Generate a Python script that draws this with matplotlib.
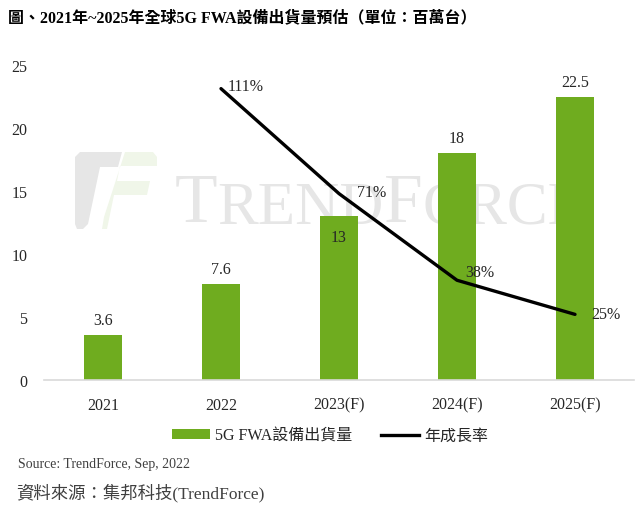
import matplotlib
matplotlib.use('Agg')
import matplotlib.pyplot as plt
from matplotlib.patches import Polygon, Patch
from matplotlib.lines import Line2D

# 字體：英數用襯線體，中文退回 Noto Sans CJK TC
plt.rcParams['font.family'] = ['Liberation Serif', 'Noto Sans CJK TC']
plt.rcParams['axes.unicode_minus'] = False

# --- 資料 ---
years = ['2021', '2022', '2023(F)', '2024(F)', '2025(F)']
shipments = [3.6, 7.6, 13, 18, 22.5]          # 百萬台
growth_years = ['2022', '2023(F)', '2024(F)', '2025(F)']
growth_pct = [111, 71, 38, 25]                 # 年成長率 (%)
yticks = [0, 5, 10, 15, 20, 25]

title = '圖、2021年~2025年全球5G FWA設備出貨量預估（單位：百萬台）'
bar_label = '5G FWA設備出貨量'
line_label = '年成長率'
source_en = 'Source: TrendForce, Sep, 2022'
source_zh = '資料來源：集邦科技(TrendForce)'

W, H = 640, 506
GREEN = '#6fac1f'
TXT = '#262626'


def px(x, y):
    # 像素座標 -> figure 座標
    return (x / W, 1 - y / H)


fig = plt.figure(figsize=(W / 100, H / 100), dpi=100)
ax = fig.add_axes([44 / W, 125 / H, 590 / W, 315 / H])
ax.set_facecolor('none')

xpos = list(range(len(years)))
bars = ax.bar(xpos, shipments, width=0.32, color=GREEN, zorder=2)

# 柱狀數值標籤 (2023 的標籤放在柱內)
offsets = [5, 5, -21, 5, 5]
for b, v, off in zip(bars, shipments, offsets):
    txt = f'{v:g}'
    ax.annotate(txt, (b.get_x() + b.get_width() / 2, v), xytext=(0, off),
                textcoords='offset points', ha='center', va='bottom',
                fontsize=11.5, color=TXT, zorder=5)

ax.set_xlim(-0.5, len(years) - 0.5)
ax.set_ylim(0, 25)
ax.set_yticks(yticks)
ax.set_xticks(xpos)
ax.set_xticklabels(years)
ax.tick_params(axis='both', length=0, labelsize=11.5, colors=TXT)
ax.tick_params(axis='y', pad=12)
ax.tick_params(axis='x', pad=12)
for s in ['top', 'right', 'left']:
    ax.spines[s].set_visible(False)
ax.spines['bottom'].set_color('#d9d9d9')
ax.spines['bottom'].set_linewidth(1.2)

# --- 年成長率 (次座標軸，隱藏) ---
ax2 = ax.twinx()
gx = [years.index(y) for y in growth_years]
ax2.plot(gx, growth_pct, color='black', linewidth=2.4, solid_capstyle='round', zorder=4)
ax2.set_ylim(0, 120)
ax2.axis('off')
pct_offsets = [(5, 2), (13, 1), (6, 6), (12, 0)]
for x, v, (dx, dy) in zip(gx, growth_pct, pct_offsets):
    ax2.annotate(f'{v}%', (x, v), xytext=(dx, dy), textcoords='offset points',
                 ha='left', va='center', fontsize=11.5, color=TXT)

# --- 浮水印 TrendForce ---
wm = '#e6e6e6'
wm_green = '#f0f6e9'
gray_part = [px(75, 158), px(80, 153), px(122, 153), px(118, 168), px(100, 168),
             px(88, 225), px(83, 230), px(77, 230), px(75, 225)]
green_part = [px(125, 153), px(153, 153), px(157, 158), px(157, 167), px(120, 167),
              px(117, 182), px(150, 182), px(147, 196), px(114, 196), px(107, 230),
              px(102, 230), px(104, 218), px(125, 153)]
ax.add_patch(Polygon(gray_part, closed=True, transform=fig.transFigure,
                     facecolor=wm, edgecolor='none', zorder=0))
ax.add_patch(Polygon(green_part, closed=True, transform=fig.transFigure,
                     facecolor=wm_green, edgecolor='none', zorder=0))
pieces = [('T', 50), ('REND', 44), ('F', 50), ('ORCE', 44)]
prev = None
for s, fs in pieces:
    if prev is None:
        prev = ax.text(*px(175, 222), s, transform=fig.transFigure, fontsize=fs,
                       color=wm, ha='left', va='baseline', zorder=0)
    else:
        prev = ax.annotate(s, xy=(1, 0), xycoords=prev, fontsize=fs, color=wm,
                           ha='left', va='bottom', zorder=0)

# --- 標題 / 圖例 / 來源 ---
fig.text(*px(8, 18), title, fontsize=11.5, fontweight='bold', color='black',
         ha='left', va='center')

handles = [Patch(facecolor=GREEN, edgecolor='none', label=bar_label),
           Line2D([0], [0], color='black', linewidth=2.4, label=line_label)]
fig.legend(handles=handles, loc='center', bbox_to_anchor=px(330, 437), ncol=2,
           frameon=False, fontsize=11.5, handlelength=2.4, handleheight=0.6,
           columnspacing=1.8, handletextpad=0.3, labelcolor=TXT)

fig.text(*px(18, 465), source_en, fontsize=10, color='#404040', ha='left', va='center')
fig.text(*px(16, 493), source_zh, fontsize=12.5, color='#404040', ha='left', va='center')

fig.savefig('out.png', dpi=100)
